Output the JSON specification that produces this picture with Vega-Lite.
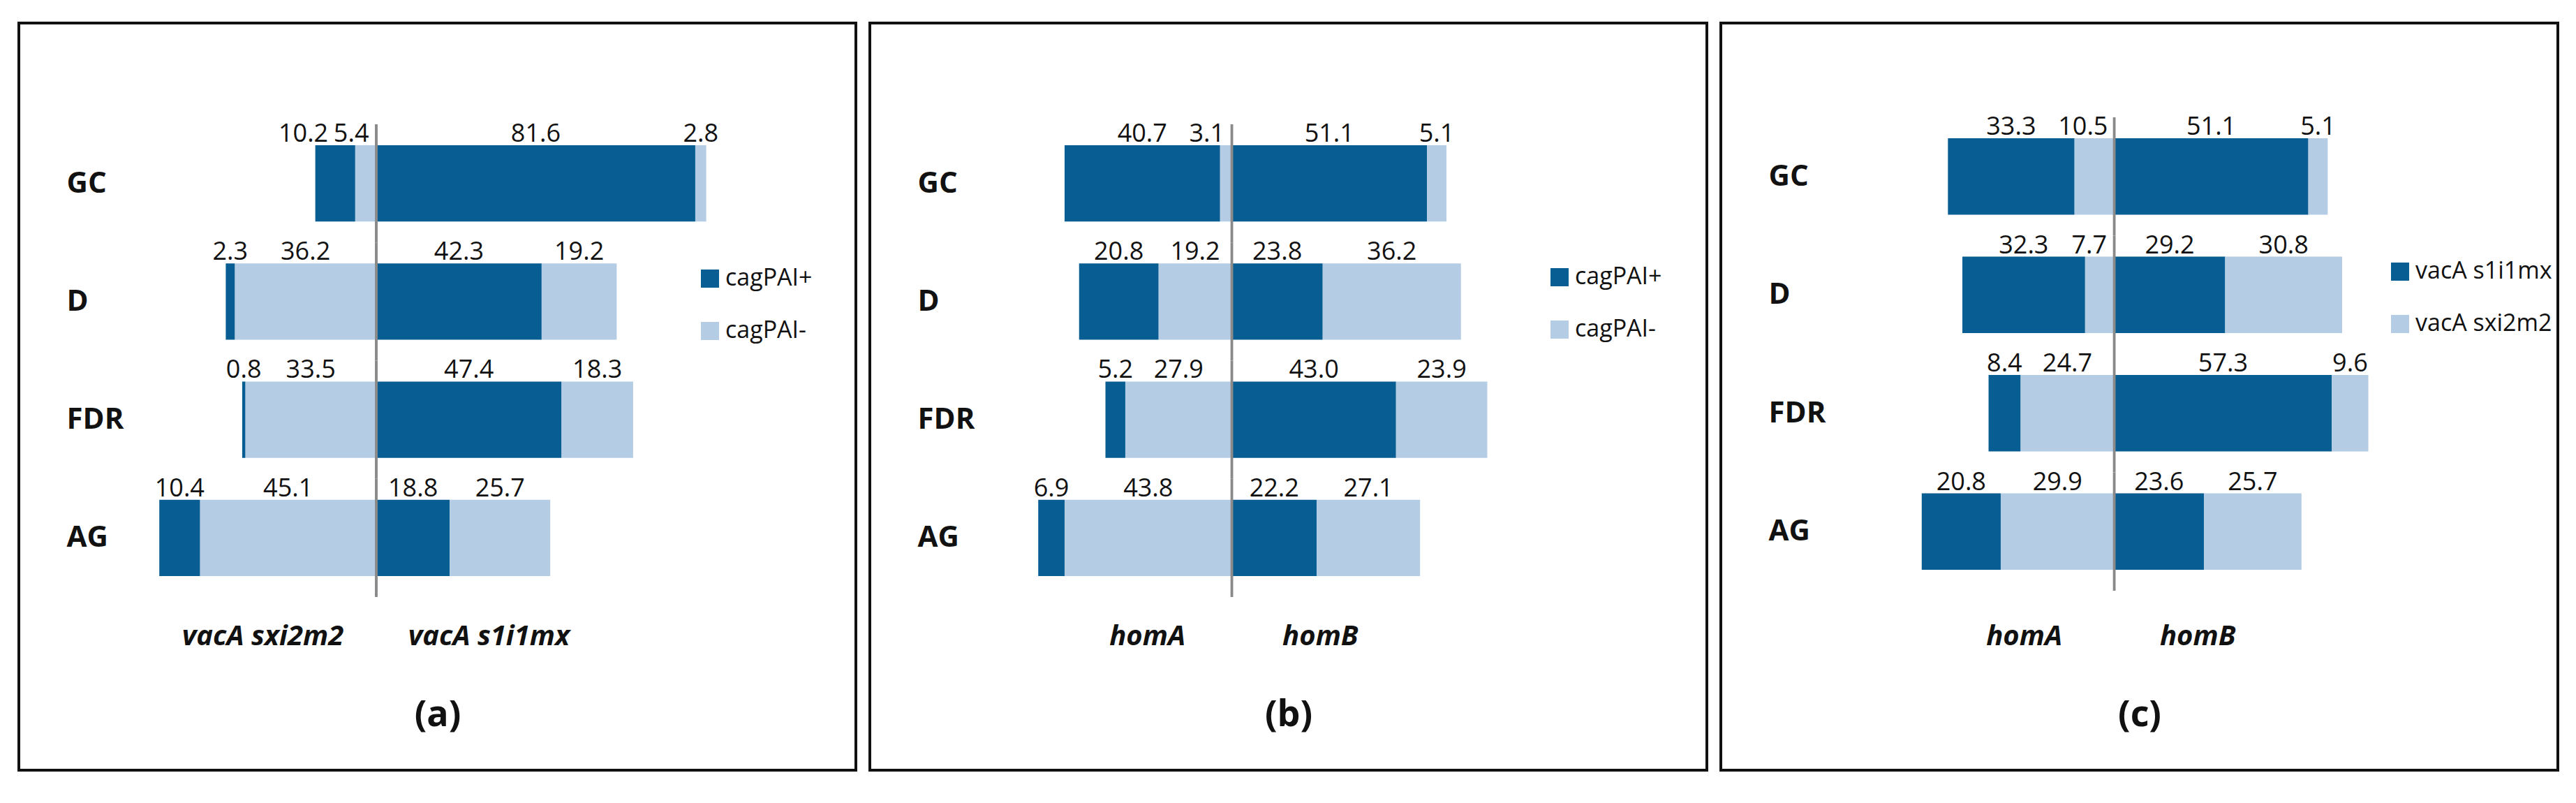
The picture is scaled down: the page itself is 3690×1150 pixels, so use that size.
{
  "$schema": "https://vega.github.io/schema/vega-lite/v6.json",
  "background": "white",
  "padding": {"left": 25, "top": 31, "right": 0, "bottom": 0},
  "spacing": 16,
  "datasets": {
    "a": [
      {"cat": "GC", "side": "L", "grp": "cagPAI-", "pct": 5.4},
      {"cat": "GC", "side": "L", "grp": "cagPAI+", "pct": 10.2},
      {"cat": "GC", "side": "R", "grp": "cagPAI+", "pct": 81.6},
      {"cat": "GC", "side": "R", "grp": "cagPAI-", "pct": 2.8},
      {"cat": "D", "side": "L", "grp": "cagPAI-", "pct": 36.2},
      {"cat": "D", "side": "L", "grp": "cagPAI+", "pct": 2.3},
      {"cat": "D", "side": "R", "grp": "cagPAI+", "pct": 42.3},
      {"cat": "D", "side": "R", "grp": "cagPAI-", "pct": 19.2},
      {"cat": "FDR", "side": "L", "grp": "cagPAI-", "pct": 33.5},
      {"cat": "FDR", "side": "L", "grp": "cagPAI+", "pct": 0.8},
      {"cat": "FDR", "side": "R", "grp": "cagPAI+", "pct": 47.4},
      {"cat": "FDR", "side": "R", "grp": "cagPAI-", "pct": 18.3},
      {"cat": "AG", "side": "L", "grp": "cagPAI-", "pct": 45.1},
      {"cat": "AG", "side": "L", "grp": "cagPAI+", "pct": 10.4},
      {"cat": "AG", "side": "R", "grp": "cagPAI+", "pct": 18.8},
      {"cat": "AG", "side": "R", "grp": "cagPAI-", "pct": 25.7}
    ],
    "b": [
      {"cat": "GC", "side": "L", "grp": "cagPAI-", "pct": 3.1},
      {"cat": "GC", "side": "L", "grp": "cagPAI+", "pct": 40.7},
      {"cat": "GC", "side": "R", "grp": "cagPAI+", "pct": 51.1},
      {"cat": "GC", "side": "R", "grp": "cagPAI-", "pct": 5.1},
      {"cat": "D", "side": "L", "grp": "cagPAI-", "pct": 19.2},
      {"cat": "D", "side": "L", "grp": "cagPAI+", "pct": 20.8},
      {"cat": "D", "side": "R", "grp": "cagPAI+", "pct": 23.8},
      {"cat": "D", "side": "R", "grp": "cagPAI-", "pct": 36.2},
      {"cat": "FDR", "side": "L", "grp": "cagPAI-", "pct": 27.9},
      {"cat": "FDR", "side": "L", "grp": "cagPAI+", "pct": 5.2},
      {"cat": "FDR", "side": "R", "grp": "cagPAI+", "pct": 43.0},
      {"cat": "FDR", "side": "R", "grp": "cagPAI-", "pct": 23.9},
      {"cat": "AG", "side": "L", "grp": "cagPAI-", "pct": 43.8},
      {"cat": "AG", "side": "L", "grp": "cagPAI+", "pct": 6.9},
      {"cat": "AG", "side": "R", "grp": "cagPAI+", "pct": 22.2},
      {"cat": "AG", "side": "R", "grp": "cagPAI-", "pct": 27.1}
    ],
    "c": [
      {"cat": "GC", "side": "L", "grp": "vacA sxi2m2", "pct": 10.5},
      {"cat": "GC", "side": "L", "grp": "vacA s1i1mx", "pct": 33.3},
      {"cat": "GC", "side": "R", "grp": "vacA s1i1mx", "pct": 51.1},
      {"cat": "GC", "side": "R", "grp": "vacA sxi2m2", "pct": 5.1},
      {"cat": "D", "side": "L", "grp": "vacA sxi2m2", "pct": 7.7},
      {"cat": "D", "side": "L", "grp": "vacA s1i1mx", "pct": 32.3},
      {"cat": "D", "side": "R", "grp": "vacA s1i1mx", "pct": 29.2},
      {"cat": "D", "side": "R", "grp": "vacA sxi2m2", "pct": 30.8},
      {"cat": "FDR", "side": "L", "grp": "vacA sxi2m2", "pct": 24.7},
      {"cat": "FDR", "side": "L", "grp": "vacA s1i1mx", "pct": 8.4},
      {"cat": "FDR", "side": "R", "grp": "vacA s1i1mx", "pct": 57.3},
      {"cat": "FDR", "side": "R", "grp": "vacA sxi2m2", "pct": 9.6},
      {"cat": "AG", "side": "L", "grp": "vacA sxi2m2", "pct": 29.9},
      {"cat": "AG", "side": "L", "grp": "vacA s1i1mx", "pct": 20.8},
      {"cat": "AG", "side": "R", "grp": "vacA s1i1mx", "pct": 23.6},
      {"cat": "AG", "side": "R", "grp": "vacA sxi2m2", "pct": 25.7}
    ]
  },
  "hconcat": [
    {
      "width": 1199, "height": 1070,
      "data": {"name": "a"},
      "transform": [
        {"calculate": "datum.side == 'L' ? -datum.pct : datum.pct", "as": "xv"},
        {"stack": "xv", "groupby": ["cat"], "as": ["x0", "x1"]},
        {"calculate": "(datum.x0 + datum.x1) / 2", "as": "mid"},
        {"calculate": "length(format(datum.pct, '.1f')) * 8.94 / 5.6", "as": "half"},
        {"calculate": "datum.side == 'L' ? min(datum.mid, -datum.half - 9 / 5.6) : datum.mid", "as": "lxc"},
        {"window": [{"op": "lag", "field": "lxc", "as": "px"}, {"op": "lag", "field": "half", "as": "ph"}], "groupby": ["cat", "side"], "sort": [{"field": "x0", "order": "descending"}]},
        {"calculate": "datum.side == 'L' && isValid(datum.px) ? min(datum.lxc, datum.px - datum.ph - datum.half - 6 / 5.6) : datum.lxc", "as": "lx"}
      ],
      "layer": [
        {
          "mark": {"type": "bar", "height": {"band": 0.646}},
          "encoding": {
            "y": {"field": "cat", "type": "nominal",
              "scale": {"domain": ["GC", "D", "FDR", "AG"], "range": [145, 822], "paddingInner": 0, "paddingOuter": 0},
              "axis": {"orient": "left", "offset": -68, "labelAlign": "left", "labelBaseline": "middle", "labelFont": "Open Sans", "labelFontSize": 42, "labelFontWeight": "bold", "title": null}},
            "x": {"field": "x0", "type": "quantitative",
              "scale": {"domain": [-91.43, 122.68], "nice": false, "zero": false},
              "axis": {"values": [-29.1, 28.75], "labelExpr": "datum.value < 0 ? 'vacA sxi2m2' : 'vacA s1i1mx'", "labelFont": "Open Sans", "labelFontSize": 40, "labelFontStyle": "italic", "labelFontWeight": "bold", "labelAlign": "center", "labelBaseline": "alphabetic", "offset": -180, "labelFlush": false, "labelOverlap": false, "labelLimit": 600,
                "title": "(a)", "titleFont": "Open Sans", "titleFontSize": 52, "titleFontWeight": "bold", "titleY": 116, "titleBaseline": "alphabetic"}},
            "x2": {"field": "x1"},
            "color": {"field": "grp", "type": "nominal",
              "scale": {"domain": ["cagPAI+", "cagPAI-"], "range": ["#085E92", "#B4CDE4"]},
              "legend": {"orient": "none", "legendX": 973, "legendY": 349, "title": null, "symbolType": "square", "symbolSize": 676, "symbolStrokeWidth": 0, "labelFontSize": 34, "labelOffset": 5, "labelLimit": 400, "rowPadding": 41, "padding": 0, "labelColor": "#111111"}}
          }
        },
        {
          "transform": [{"aggregate": [{"op": "count", "as": "n"}], "groupby": ["cat"]}],
          "mark": {"type": "bar", "color": "#8A8A8A"},
          "encoding": {
            "x": {"datum": -0.35, "type": "quantitative"},
            "x2": {"datum": 0.35},
            "y": {"field": "cat", "type": "nominal"}
          }
        },
        {
          "mark": {"type": "text", "baseline": "alphabetic", "dy": -5, "fontSize": 36, "color": "#111111"},
          "encoding": {
            "x": {"field": "lx", "type": "quantitative"},
            "y": {"field": "cat", "type": "nominal", "bandPosition": 0.177},
            "text": {"field": "pct", "type": "quantitative", "format": ".1f"}
          }
        }
      ]
    },
    {
      "width": 1199, "height": 1070,
      "data": {"name": "b"},
      "transform": [
        {"calculate": "datum.side == 'L' ? -datum.pct : datum.pct", "as": "xv"},
        {"stack": "xv", "groupby": ["cat"], "as": ["x0", "x1"]},
        {"calculate": "(datum.x0 + datum.x1) / 2", "as": "mid"},
        {"calculate": "length(format(datum.pct, '.1f')) * 8.94 / 5.47", "as": "half"},
        {"calculate": "datum.side == 'L' ? min(datum.mid, -datum.half - 9 / 5.47) : datum.mid", "as": "lxc"},
        {"window": [{"op": "lag", "field": "lxc", "as": "px"}, {"op": "lag", "field": "half", "as": "ph"}], "groupby": ["cat", "side"], "sort": [{"field": "x0", "order": "descending"}]},
        {"calculate": "datum.side == 'L' && isValid(datum.px) ? min(datum.lxc, datum.px - datum.ph - datum.half - 6 / 5.47) : datum.lxc", "as": "lx"}
      ],
      "layer": [
        {
          "mark": {"type": "bar", "height": {"band": 0.646}},
          "encoding": {
            "y": {"field": "cat", "type": "nominal",
              "scale": {"domain": ["GC", "D", "FDR", "AG"], "range": [145, 822], "paddingInner": 0, "paddingOuter": 0},
              "axis": {"orient": "left", "offset": -68, "labelAlign": "left", "labelBaseline": "middle", "labelFont": "Open Sans", "labelFontSize": 42, "labelFontWeight": "bold", "title": null}},
            "x": {"field": "x0", "type": "quantitative",
              "scale": {"domain": [-94.8, 124.4], "nice": false, "zero": false},
              "axis": {"values": [-22.2, 23.1], "labelExpr": "datum.value < 0 ? 'homA' : 'homB'", "labelFont": "Open Sans", "labelFontSize": 40, "labelFontStyle": "italic", "labelFontWeight": "bold", "labelAlign": "center", "labelBaseline": "alphabetic", "offset": -180, "labelFlush": false, "labelOverlap": false, "labelLimit": 600,
                "title": "(b)", "titleFont": "Open Sans", "titleFontSize": 52, "titleFontWeight": "bold", "titleY": 116, "titleBaseline": "alphabetic"}},
            "x2": {"field": "x1"},
            "color": {"field": "grp", "type": "nominal",
              "scale": {"domain": ["cagPAI+", "cagPAI-"], "range": ["#085E92", "#B4CDE4"]},
              "legend": {"orient": "none", "legendX": 971, "legendY": 347, "title": null, "symbolType": "square", "symbolSize": 676, "symbolStrokeWidth": 0, "labelFontSize": 34, "labelOffset": 5, "labelLimit": 400, "rowPadding": 41, "padding": 0, "labelColor": "#111111"}}
          }
        },
        {
          "transform": [{"aggregate": [{"op": "count", "as": "n"}], "groupby": ["cat"]}],
          "mark": {"type": "bar", "color": "#8A8A8A"},
          "encoding": {
            "x": {"datum": -0.35, "type": "quantitative"},
            "x2": {"datum": 0.35},
            "y": {"field": "cat", "type": "nominal"}
          }
        },
        {
          "mark": {"type": "text", "baseline": "alphabetic", "dy": -5, "fontSize": 36, "color": "#111111"},
          "encoding": {
            "x": {"field": "lx", "type": "quantitative"},
            "y": {"field": "cat", "type": "nominal", "bandPosition": 0.177},
            "text": {"field": "pct", "type": "quantitative", "format": ".1f"}
          }
        }
      ]
    },
    {
      "width": 1199, "height": 1070,
      "data": {"name": "c"},
      "transform": [
        {"calculate": "datum.side == 'L' ? -datum.pct : datum.pct", "as": "xv"},
        {"stack": "xv", "groupby": ["cat"], "as": ["x0", "x1"]},
        {"calculate": "(datum.x0 + datum.x1) / 2", "as": "mid"},
        {"calculate": "length(format(datum.pct, '.1f')) * 8.94 / 5.44", "as": "half"},
        {"calculate": "datum.side == 'L' ? min(datum.mid, -datum.half - 9 / 5.44) : datum.mid", "as": "lxc"},
        {"window": [{"op": "lag", "field": "lxc", "as": "px"}, {"op": "lag", "field": "half", "as": "ph"}], "groupby": ["cat", "side"], "sort": [{"field": "x0", "order": "descending"}]},
        {"calculate": "datum.side == 'L' && isValid(datum.px) ? min(datum.lxc, datum.px - datum.ph - datum.half - 6 / 5.44) : datum.lxc", "as": "lx"}
      ],
      "layer": [
        {
          "mark": {"type": "bar", "height": {"band": 0.646}},
          "encoding": {
            "y": {"field": "cat", "type": "nominal",
              "scale": {"domain": ["GC", "D", "FDR", "AG"], "range": [135, 813], "paddingInner": 0, "paddingOuter": 0},
              "axis": {"orient": "left", "offset": -68, "labelAlign": "left", "labelBaseline": "middle", "labelFont": "Open Sans", "labelFontSize": 42, "labelFontWeight": "bold", "title": null}},
            "x": {"field": "x0", "type": "quantitative",
              "scale": {"domain": [-103.6, 116.8], "nice": false, "zero": false},
              "axis": {"values": [-23.8, 21.9], "labelExpr": "datum.value < 0 ? 'homA' : 'homB'", "labelFont": "Open Sans", "labelFontSize": 40, "labelFontStyle": "italic", "labelFontWeight": "bold", "labelAlign": "center", "labelBaseline": "alphabetic", "offset": -180, "labelFlush": false, "labelOverlap": false, "labelLimit": 600,
                "title": "(c)", "titleFont": "Open Sans", "titleFontSize": 52, "titleFontWeight": "bold", "titleY": 116, "titleBaseline": "alphabetic"}},
            "x2": {"field": "x1"},
            "color": {"field": "grp", "type": "nominal",
              "scale": {"domain": ["vacA s1i1mx", "vacA sxi2m2"], "range": ["#085E92", "#B4CDE4"]},
              "legend": {"orient": "none", "legendX": 956, "legendY": 339, "title": null, "symbolType": "square", "symbolSize": 676, "symbolStrokeWidth": 0, "labelFontSize": 34, "labelOffset": 5, "labelLimit": 400, "rowPadding": 41, "padding": 0, "labelColor": "#111111"}}
          }
        },
        {
          "transform": [{"aggregate": [{"op": "count", "as": "n"}], "groupby": ["cat"]}],
          "mark": {"type": "bar", "color": "#8A8A8A"},
          "encoding": {
            "x": {"datum": -0.35, "type": "quantitative"},
            "x2": {"datum": 0.35},
            "y": {"field": "cat", "type": "nominal"}
          }
        },
        {
          "mark": {"type": "text", "baseline": "alphabetic", "dy": -5, "fontSize": 36, "color": "#111111"},
          "encoding": {
            "x": {"field": "lx", "type": "quantitative"},
            "y": {"field": "cat", "type": "nominal", "bandPosition": 0.177},
            "text": {"field": "pct", "type": "quantitative", "format": ".1f"}
          }
        }
      ]
    }
  ],
  "resolve": {"scale": {"color": "independent", "x": "independent", "y": "independent"}, "legend": {"color": "independent"}},
  "config": {
    "view": {"stroke": "#111111", "strokeWidth": 4},
    "font": "Open Sans",
    "axis": {"grid": false, "domain": false, "ticks": false, "tickSize": 0, "labelPadding": 0, "labelColor": "#111111", "titleColor": "#111111"}
  }
}
